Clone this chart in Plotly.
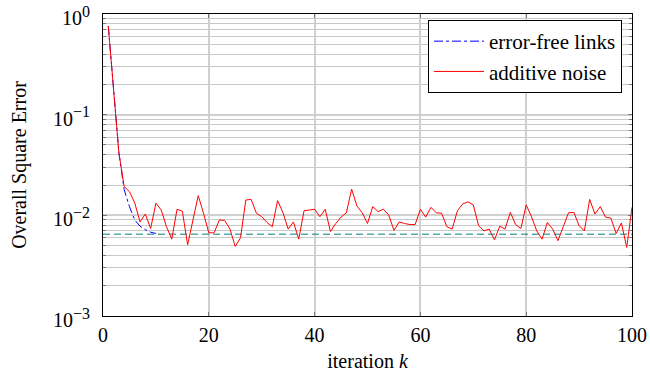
import plotly.graph_objects as go

# Data
iterations = list(range(1, 101))
additive_noise = [0.76, 0.18, 0.042, 0.0193, 0.0172, 0.0133, 0.0086, 0.0103, 0.0074, 0.0132,
                  0.0113, 0.0077, 0.0058, 0.0115, 0.0110, 0.0051, 0.0090, 0.0157, 0.0105, 0.0067,
                  0.0067, 0.0090, 0.0089, 0.0073, 0.0049, 0.0060, 0.0142, 0.0144, 0.0105, 0.0097,
                  0.0085, 0.0077, 0.0140, 0.0107, 0.0073, 0.0086, 0.0058, 0.0111, 0.0113, 0.0115,
                  0.0097, 0.0115, 0.0069, 0.0083, 0.0096, 0.0106, 0.0182, 0.0124, 0.0106, 0.0083,
                  0.0122, 0.0109, 0.0115, 0.0101, 0.0071, 0.0086, 0.0083, 0.0081, 0.0081, 0.0115,
                  0.0096, 0.0120, 0.0106, 0.0105, 0.0077, 0.0073, 0.0111, 0.0130, 0.0136, 0.0127,
                  0.0079, 0.0070, 0.0073, 0.0057, 0.0078, 0.0073, 0.0107, 0.0081, 0.0074, 0.0127,
                  0.0097, 0.0070, 0.0058, 0.0085, 0.0073, 0.0056, 0.0077, 0.0106, 0.0107, 0.0079,
                  0.0070, 0.0144, 0.0103, 0.0122, 0.0096, 0.0094, 0.0066, 0.0084, 0.0048, 0.0120]
errorfree_k = list(range(1, 11))
errorfree = [0.76, 0.18, 0.042, 0.018, 0.0122, 0.0090, 0.0078, 0.0072, 0.0068, 0.0066]
limit_x = [0, 100]
limit_val = [0.0065, 0.0065]

x_ticks = [0, 20, 40, 60, 80, 100]
y_ticks = [1e-3, 1e-2, 1e-1, 1]
y_exponents = ["\u22123", "\u22122", "\u22121", "0"]
y_tick_text = ['10<sup><span style="font-size:16px">%s</span></sup>' % e for e in y_exponents]
y_minor = [m * 10.0 ** e for e in (-3, -2, -1) for m in range(2, 10)]

font_family = "Liberation Serif, Times New Roman, serif"
tick_font = dict(family=font_family, size=20, color="black")
title_font = dict(family=font_family, size=20, color="black")

fig = go.Figure()
fig.add_trace(go.Scatter(x=limit_x, y=limit_val, mode="lines", showlegend=False,
                         line=dict(color="rgb(0,128,128)", width=1, dash="7px,4px")))
fig.add_trace(go.Scatter(x=errorfree_k, y=errorfree, mode="lines", name="error-free links",
                         line=dict(color="blue", width=1, dash="dashdot")))
fig.add_trace(go.Scatter(x=iterations, y=additive_noise, mode="lines", name="additive noise",
                         line=dict(color="red", width=1)))

fig.update_layout(
    width=650, height=378,
    margin=dict(l=103, r=18, t=14, b=62, autoexpand=False),
    paper_bgcolor="white", plot_bgcolor="white",
    font=dict(family=font_family, size=18, color="black"),
    legend=dict(x=1 - 10 / 529, y=1 - 6 / 302, xanchor="right", yanchor="top",
                bgcolor="white", bordercolor="black", borderwidth=1,
                font=dict(family=font_family, size=21, color="black"),
                tracegroupgap=0, itemwidth=50),
)
fig.update_xaxes(
    range=[0, 100], tickvals=x_ticks, ticks="inside", ticklen=4, tickcolor="#777",
    tickfont=tick_font, ticklabelstandoff=1, automargin=False, ticklabeloverflow="allow",
    showline=True, linecolor="black", linewidth=1, mirror="ticks",
    showgrid=True, gridcolor="#d0d0d0", gridwidth=1.5, zeroline=False,
    title=dict(text="iteration <i>k</i>", font=title_font, standoff=8),
)
fig.update_yaxes(
    type="log", range=[-3, 0], tickmode="array", tickvals=y_ticks, ticktext=y_tick_text,
    ticks="inside", ticklen=4, tickcolor="#777",
    tickfont=tick_font, ticklabelstandoff=8, ticklabelshift=4,
    automargin=False, ticklabeloverflow="allow",
    showline=True, linecolor="black", linewidth=1, mirror="ticks",
    showgrid=True, gridcolor="#d0d0d0", gridwidth=1.5, zeroline=False,
    minor=dict(tickmode="array", tickvals=y_minor, ticks="inside", ticklen=3,
               tickcolor="#777", showgrid=True, gridcolor="#c8c8c8", gridwidth=1),
    title=dict(text="Overall Square Error", font=title_font, standoff=20),
)

fig.write_html("out.html")
